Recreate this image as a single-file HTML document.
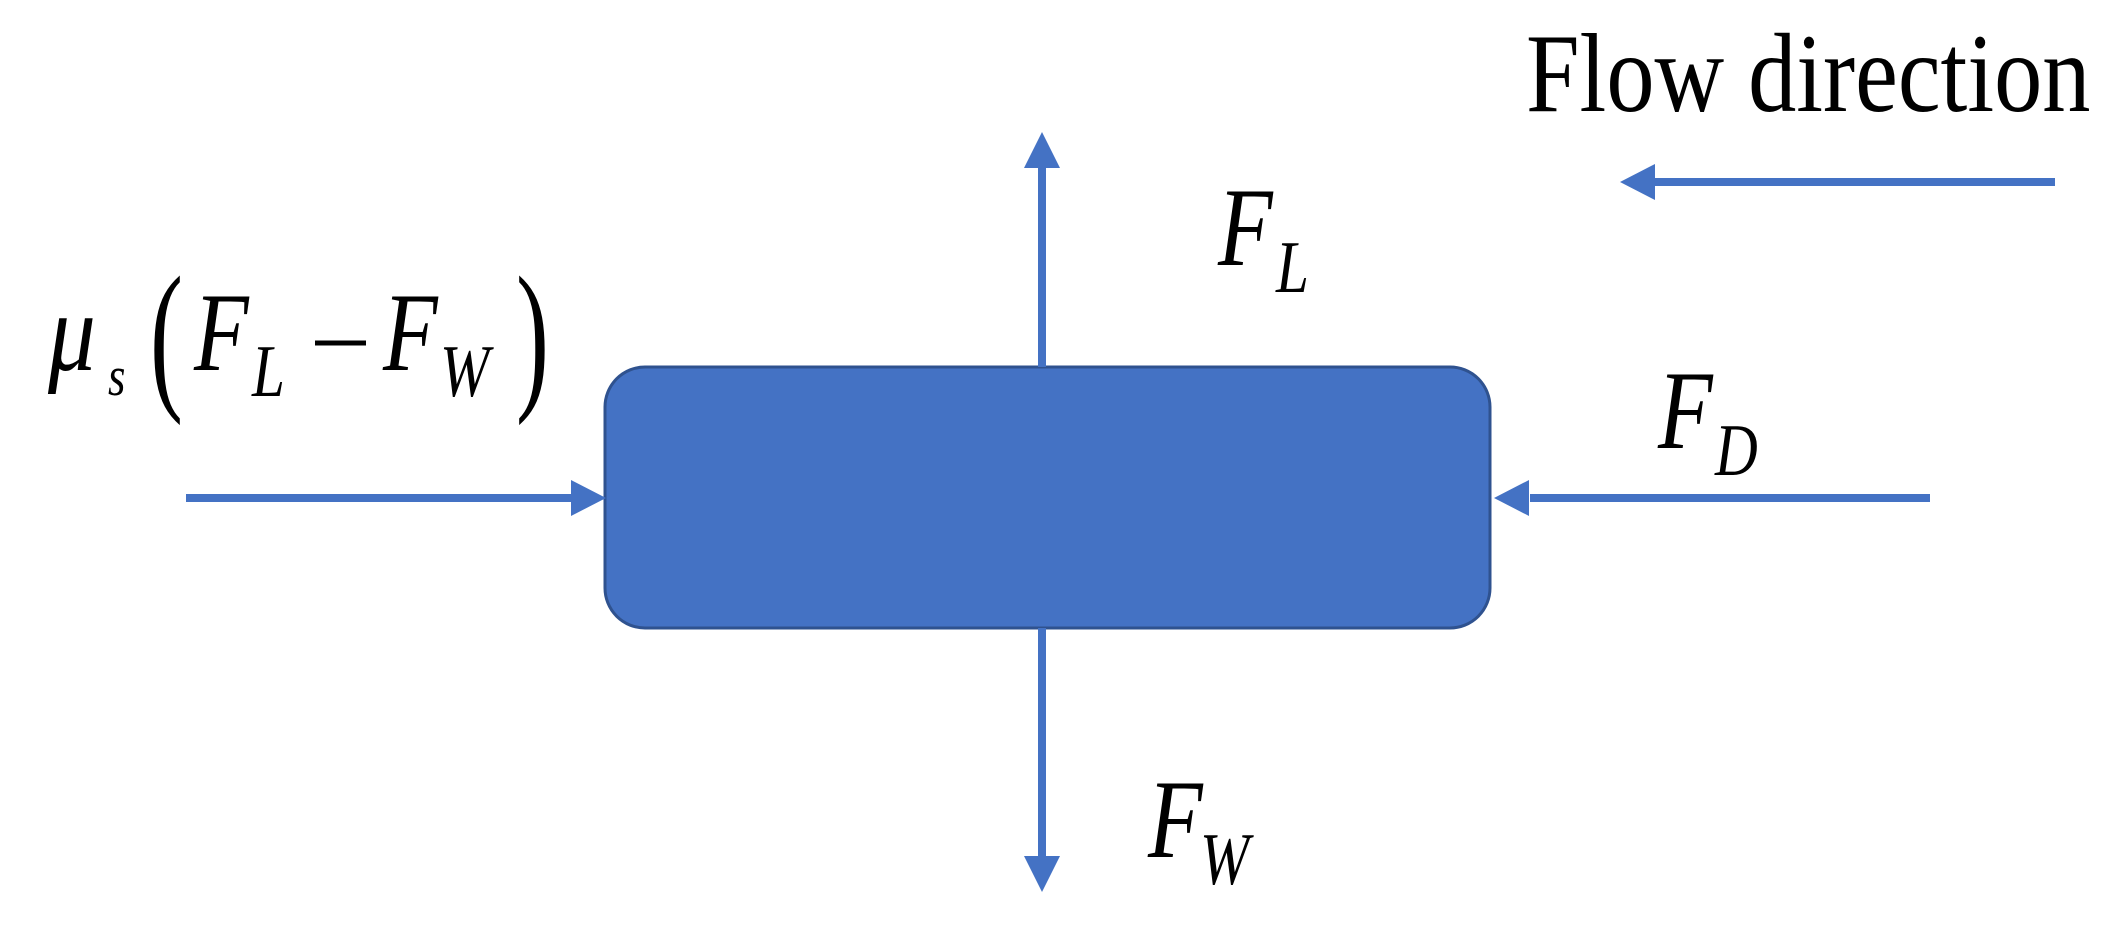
<!DOCTYPE html>
<html><head><meta charset="utf-8"><style>
html,body{margin:0;padding:0;background:#fff;}
svg{display:block;}
text{font-family:"Liberation Serif",serif;fill:#000;}
</style></head><body>
<svg width="2117" height="933" viewBox="0 0 2117 933" xmlns="http://www.w3.org/2000/svg">
<rect x="605" y="367" width="885" height="261" rx="40" ry="40" fill="#4472C4" stroke="#2F528F" stroke-width="3"/>
<g stroke="#4472C4" stroke-width="8" fill="none">
<line x1="1042" y1="367" x2="1042" y2="165"/>
<line x1="1042" y1="628" x2="1042" y2="860"/>
<line x1="186" y1="498" x2="575" y2="498"/>
<line x1="1930" y1="498" x2="1530" y2="498"/>
<line x1="2055" y1="182" x2="1655" y2="182"/>
</g>
<g fill="#4472C4">
<polygon points="1042,132 1024,168 1060,168"/>
<polygon points="1042,892 1024,856 1060,856"/>
<polygon points="606,498 571,480 571,516"/>
<polygon points="1494,498 1529,480 1529,516"/>
<polygon points="1620,182 1655,164 1655,200"/>
</g>
<text transform="translate(1526 111) scale(0.86 1)" font-size="112">Flow direction</text>
<g font-style="italic">
<text transform="translate(1218 265) scale(0.8 1)" font-size="112">F</text>
<text transform="translate(1276 292) scale(0.8 1)" font-size="74">L</text>
<text transform="translate(1658 448) scale(0.8 1)" font-size="112">F</text>
<text transform="translate(1715 475) scale(0.8 1)" font-size="74">D</text>
<text transform="translate(1148 857) scale(0.8 1)" font-size="112">F</text>
<text transform="translate(1200 884) scale(0.8 1)" font-size="74">W</text>
<text transform="translate(48 370) scale(0.85 1)" font-size="112">μ</text>
<text transform="translate(108 395) scale(0.8 1)" font-size="56">s</text>
<text transform="translate(194 370) scale(0.8 1)" font-size="112">F</text>
<text transform="translate(252 396) scale(0.8 1)" font-size="74">L</text>
<text transform="translate(383 370) scale(0.8 1)" font-size="112">F</text>
<text transform="translate(440 396) scale(0.8 1)" font-size="74">W</text>
</g>
<text transform="translate(150 390) scale(0.6 1)" font-size="165">(</text>
<text transform="translate(516 390) scale(0.6 1)" font-size="165">)</text>
<line x1="315" y1="343" x2="366" y2="343" stroke="#000" stroke-width="5"/>
</svg>
</body></html>
